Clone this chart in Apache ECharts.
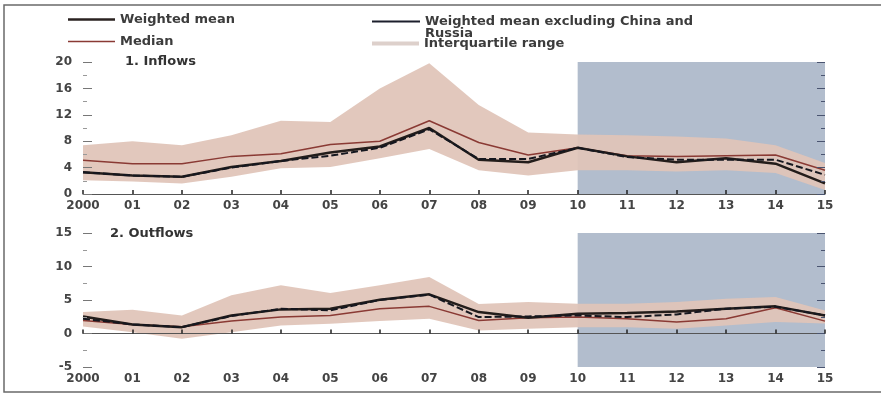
<!DOCTYPE html>
<html>
<head>
<meta charset="utf-8">
<title>Capital flows</title>
<script src="https://cdn.jsdelivr.net/npm/echarts@6/dist/echarts.min.js"></script>
<style>
  html, body { margin: 0; padding: 0; background: #fff; }
  #main { width: 881px; height: 398px; }
</style>
</head>
<body>
<div id="main"></div>
<script>
// years on the x axis
const years = ['2000', '01', '02', '03', '04', '05', '06', '07', '08', '09', '10', '11', '12', '13', '14', '15'];

// 1. Inflows
const inflowMean = [3.3, 2.8, 2.6, 4.1, 5.0, 6.3, 7.2, 10.0, 5.2, 4.8, 7.0, 5.7, 4.8, 5.4, 4.6, 1.6];
const inflowExcl = [3.3, 2.8, 2.6, 4.0, 5.0, 5.8, 7.0, 9.8, 5.3, 5.3, 7.0, 5.6, 5.2, 5.2, 5.2, 2.9];
const inflowMedian = [5.1, 4.6, 4.6, 5.7, 6.1, 7.5, 8.0, 11.1, 7.8, 5.9, 7.0, 5.8, 5.7, 5.8, 5.9, 3.6];
const inflowLow = [2.1, 1.9, 1.6, 2.6, 3.9, 4.1, 5.4, 6.8, 3.6, 2.8, 3.6, 3.6, 3.4, 3.6, 3.2, 0.6];
const inflowHigh = [7.4, 8.0, 7.4, 8.9, 11.1, 10.9, 16.0, 19.8, 13.5, 9.3, 9.0, 8.9, 8.7, 8.4, 7.4, 4.7];

// 2. Outflows
const outflowMean = [2.55, 1.35, 0.95, 2.7, 3.6, 3.7, 5.05, 5.85, 3.2, 2.35, 2.95, 3.05, 3.3, 3.7, 4.05, 2.7];
const outflowExcl = [2.2, 1.35, 0.95, 2.6, 3.7, 3.45, 5.0, 5.8, 2.45, 2.55, 2.7, 2.45, 2.85, 3.7, 4.0, 2.7];
const outflowMedian = [1.95, 1.35, 1.0, 1.85, 2.45, 2.7, 3.7, 4.05, 1.95, 2.35, 2.45, 2.2, 1.7, 2.2, 3.85, 1.85];
const outflowLow = [1.05, 0.2, -0.8, 0.2, 1.2, 1.45, 1.85, 2.2, 0.45, 0.7, 0.95, 0.95, 0.7, 1.2, 1.7, 1.5];
const outflowHigh = [3.2, 3.55, 2.7, 5.7, 7.2, 6.05, 7.2, 8.45, 4.4, 4.7, 4.45, 4.45, 4.7, 5.2, 5.45, 3.45];

const FONT = 'DejaVu Sans';
const bandColor = 'rgba(224,196,184,0.93)';
const shadeColor = '#b2bdcd';

let myChart = echarts.init(document.getElementById('main'));

function xAxisFor(gridIndex) {
  return {
    type: 'category',
    gridIndex: gridIndex,
    data: years,
    boundaryGap: false,
    z: 10,
    axisLine: { show: true, lineStyle: { color: '#555', width: 1 } },
    axisTick: { show: true, inside: true, length: 4, lineStyle: { color: '#222', width: 1.5 } },
    axisLabel: { interval: 0, margin: 6, fontFamily: FONT, fontWeight: 'bold', fontSize: 12, color: '#444' },
    splitLine: { show: false },
  };
}

function yAxisFor(gridIndex, min, max, interval, right) {
  return {
    type: 'value',
    gridIndex: gridIndex,
    position: right ? 'right' : 'left',
    min: min,
    max: max,
    interval: interval,
    z: 10,
    axisLine: { show: false },
    axisTick: { show: true, inside: true, length: right ? 8 : 9, lineStyle: { color: right ? '#4a5470' : '#777', width: 1 } },
    minorTick: { show: true, splitNumber: 2, length: 4, lineStyle: { color: right ? '#4a5470' : '#999' } },
    axisLabel: { show: !right, margin: 11, fontFamily: FONT, fontWeight: 'bold', fontSize: 12, color: '#444' },
    splitLine: { show: false },
    minorSplitLine: { show: false },
  };
}

function panelSeries(idx, mean, excl, median, low, high) {
  let stackName = 'iqr' + idx;
  let list = [
    {
      name: 'IQR base',
      type: 'line',
      xAxisIndex: idx,
      yAxisIndex: idx * 2,
      data: low,
      stack: stackName,
      stackStrategy: 'all',
      symbol: 'none',
      silent: true,
      z: 1,
      lineStyle: { opacity: 0 },
      markArea: {
        silent: true,
        z: 1,
        itemStyle: { color: shadeColor },
        data: [[{ xAxis: '10' }, { xAxis: '15' }]],
      },
    },
    {
      name: 'Interquartile range',
      type: 'line',
      xAxisIndex: idx,
      yAxisIndex: idx * 2,
      // band height on top of the lower quartile
      data: high.map((v, i) => +(v - low[i]).toFixed(2)),
      stack: stackName,
      stackStrategy: 'all',
      symbol: 'none',
      silent: true,
      itemStyle: { color: bandColor },
      lineStyle: { opacity: 0 },
      areaStyle: { color: bandColor, opacity: 1 },
      z: 3,
    },
    {
      name: 'Median',
      type: 'line',
      xAxisIndex: idx,
      yAxisIndex: idx * 2,
      data: median,
      symbol: 'none',
      itemStyle: { color: '#8a3a34' },
      lineStyle: { color: '#8a3a34', width: 1.5 },
      z: 4,
    },
    {
      name: 'Weighted mean',
      type: 'line',
      xAxisIndex: idx,
      yAxisIndex: idx * 2,
      data: mean,
      symbol: 'none',
      itemStyle: { color: '#231d1b' },
      lineStyle: { color: '#231d1b', width: 2.5 },
      z: 5,
    },
    {
      name: 'Weighted mean excluding China and Russia',
      type: 'line',
      xAxisIndex: idx,
      yAxisIndex: idx * 2,
      data: excl,
      symbol: 'none',
      itemStyle: { color: '#15171f' },
      lineStyle: { color: '#15171f', width: 2, type: [7, 3] },
      z: 6,
    },
  ];
  if (idx === 1) {
    // zero line of the outflows panel
    list[0].markLine = {
      silent: true,
      symbol: 'none',
      label: { show: false },
      lineStyle: { color: '#5b6b8c', width: 1, type: 'solid' },
      data: [{ yAxis: 0 }],
    };
  }
  return list;
}

const legendText = { fontFamily: FONT, fontWeight: 'bold', fontSize: 13, color: '#3c3c3c' };

let option = {
  backgroundColor: '#fff',
  animation: false,
  title: [
    { text: '1. Inflows', left: 125, top: 55, padding: 0, textStyle: { fontFamily: FONT, fontWeight: 'bold', fontSize: 13, color: '#333' } },
    { text: '2. Outflows', left: 110, top: 227, padding: 0, textStyle: { fontFamily: FONT, fontWeight: 'bold', fontSize: 13, color: '#333' } },
  ],
  legend: [
    {
      data: [{ name: 'Weighted mean', icon: 'rect', itemStyle: { color: '#2a2220' } }],
      left: 68, top: 13, padding: 0, itemWidth: 47, itemHeight: 2.5, textStyle: legendText,
    },
    {
      data: [{ name: 'Median', icon: 'rect', itemStyle: { color: '#8a3a34' } }],
      left: 68, top: 35, padding: 0, itemWidth: 47, itemHeight: 1.5, textStyle: legendText,
    },
    {
      data: [{ name: 'Weighted mean excluding China and Russia', icon: 'rect', itemStyle: { color: '#1c1f2c' } }],
      left: 372, top: 3, padding: 0, itemWidth: 48, itemHeight: 2,
      // first text line sits level with the icon, "Russia" wraps below
      formatter: (name) => '\n' + name.replace(' and ', ' and\n'),
      textStyle: Object.assign({}, legendText, { lineHeight: 12 }),
    },
    {
      data: [{ name: 'Interquartile range', icon: 'rect', itemStyle: { color: '#ddd0cb' } }],
      left: 372, top: 37, padding: 0, itemWidth: 47, itemHeight: 4, textStyle: legendText,
    },
  ],
  graphic: [
    {
      type: 'rect',
      shape: { x: 4, y: 5, width: 900, height: 387 },
      style: { fill: null, stroke: '#6a6a6a', lineWidth: 1.5 },
      silent: true,
      z: 100,
    },
  ],
  grid: [
    { left: 83, right: 56, top: 62, height: 132 },
    { left: 83, right: 56, top: 233, height: 134 },
  ],
  xAxis: [xAxisFor(0), xAxisFor(1)],
  yAxis: [
    yAxisFor(0, 0, 20, 4, false),
    yAxisFor(0, 0, 20, 4, true),
    yAxisFor(1, -5, 15, 5, false),
    yAxisFor(1, -5, 15, 5, true),
  ],
  series: [].concat(
    panelSeries(0, inflowMean, inflowExcl, inflowMedian, inflowLow, inflowHigh),
    panelSeries(1, outflowMean, outflowExcl, outflowMedian, outflowLow, outflowHigh)
  ),
};

myChart.setOption(option);
</script>
</body>
</html>
